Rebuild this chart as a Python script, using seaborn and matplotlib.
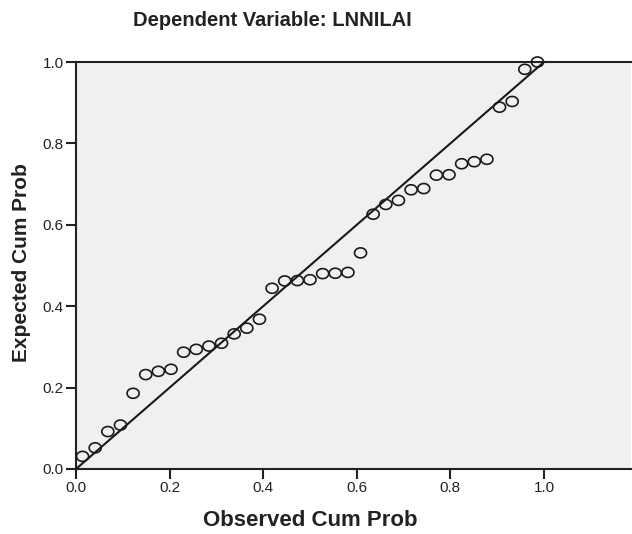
import numpy as np
import pandas as pd
import matplotlib
matplotlib.use("Agg")
import matplotlib.pyplot as plt
from matplotlib.path import Path
from matplotlib.markers import TICKDOWN
import seaborn as sns

# P-P plot of regression standardized residuals
observed_cum_prob = [0.014, 0.041, 0.068, 0.095, 0.122, 0.149, 0.176, 0.203, 0.230,
                     0.257, 0.284, 0.311, 0.338, 0.365, 0.392, 0.419, 0.446, 0.473,
                     0.500, 0.527, 0.554, 0.581, 0.608, 0.635, 0.662, 0.689, 0.716,
                     0.743, 0.770, 0.797, 0.824, 0.851, 0.878, 0.905, 0.932, 0.959,
                     0.986]
expected_cum_prob = [0.031, 0.052, 0.092, 0.108, 0.186, 0.232, 0.240, 0.245, 0.287,
                     0.294, 0.302, 0.309, 0.332, 0.346, 0.368, 0.444, 0.462, 0.463,
                     0.465, 0.480, 0.481, 0.483, 0.531, 0.626, 0.650, 0.660, 0.686,
                     0.689, 0.722, 0.723, 0.750, 0.755, 0.761, 0.889, 0.903, 0.982,
                     1.000]
ref_line = [0.0, 1.0]
x_ticks = [0.0, 0.2, 0.4, 0.6, 0.8, 1.0]
y_ticks = [0.0, 0.2, 0.4, 0.6, 0.8, 1.0]

df = pd.DataFrame({"obs": observed_cum_prob, "exp": expected_cum_prob})
line_df = pd.DataFrame({"x": ref_line, "y": ref_line})

sns.set_theme(style="ticks")
plt.rcParams["font.family"] = ["Liberation Sans", "DejaVu Sans"]

# slightly wide open circle, like the SPSS output
t = np.linspace(0, 2 * np.pi, 60)
ellipse = Path(np.column_stack([1.2 * np.cos(t), np.sin(t)]), closed=True)

fig = plt.figure(figsize=(6.32, 5.34), dpi=100)
ax = fig.add_axes([76 / 632, 1 - 469 / 534, (631 - 76) / 632, (469 - 62) / 534])
ax.set_facecolor("#f0f0f2")

sns.lineplot(data=line_df, x="x", y="y", color="#1a1a1a", linewidth=1.5, ax=ax)
sns.scatterplot(data=df, x="obs", y="exp", marker=ellipse, s=75, facecolors="none",
                edgecolor="#1a1a1a", linewidth=1.2, ax=ax, clip_on=False, zorder=3)

ax.set_xlim(0, (631 - 76) / 468)
ax.set_ylim(0, 1.0)
ax.set_xticks(x_ticks)
ax.set_yticks(y_ticks)
ax.set_xticklabels([f"{v:.1f}" for v in x_ticks])
ax.set_yticklabels([f"{v:.1f}" for v in y_ticks])
ax.tick_params(axis="x", which="major", direction="out", length=7, width=1.5,
               color="#222222", labelsize=11, labelcolor="#222222", pad=2)
ax.tick_params(axis="y", which="major", direction="out", length=7, width=1.5,
               color="#222222", labelsize=11, labelcolor="#222222", pad=2)

for side in ["left", "bottom", "top"]:
    ax.spines[side].set_color("#222222")
    ax.spines[side].set_linewidth(1.5)
ax.spines["right"].set_visible(False)

ax.set_xlabel("")
ax.set_ylabel("")
fig.text(310 / 632, 1 - 520 / 534, "Observed Cum Prob", ha="center", va="center",
         fontsize=16, fontweight="bold", color="#222222")
fig.text(22 / 632, 1 - 263 / 534, "Expected Cum Prob", ha="center", va="center",
         rotation=90, fontsize=15, fontweight="bold", color="#222222")
fig.text(272 / 632, 1 - 21 / 534, "Dependent Variable: LNNILAI", ha="center",
         va="center", fontsize=14.5, fontweight="bold", color="#222222")

fig.savefig("out.png", dpi=100, facecolor="white")

# make sure the bottom tick marks really show up
img = plt.imread("out.png")
if img[474, 168:172, 0].min() > 0.5:
    ax.plot(x_ticks, [0] * len(x_ticks), linestyle="none", marker=TICKDOWN,
            markersize=7, markeredgewidth=1.5, color="#222222", clip_on=False)
    fig.savefig("out.png", dpi=100, facecolor="white")
